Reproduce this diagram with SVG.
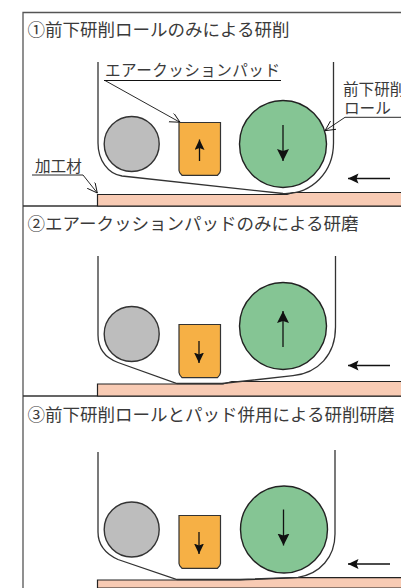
<svg xmlns="http://www.w3.org/2000/svg" width="401" height="588" viewBox="0 0 401 588">
<style>
text{font-family:"Noto Sans CJK JP","Liberation Sans",sans-serif;fill:#3a3a3a}
.t{font-size:17.5px}
.l{font-size:15.6px}
.f{fill:none;stroke:#555;stroke-width:1.3}
.b{fill:none;stroke:#333;stroke-width:1.3}
.k{fill:none;stroke:#111;stroke-width:1}
.w{fill:#f8cbb4;stroke:#222;stroke-width:1.2}
.g{fill:#bdbdbd;stroke:#333;stroke-width:1.4}
.r{fill:#85c594;stroke:#222;stroke-width:1.4}
.p{fill:#f6b045;stroke:#333;stroke-width:1.2}
.a{fill:none;stroke:#111;stroke-width:1.3;marker-end:url(#ah)}
.s{fill:none;stroke:#111;stroke-width:1.3;marker-end:url(#as)}
.o{fill:none;stroke:#111;stroke-width:.9;marker-end:url(#oh)}
</style>
<defs>
<marker id="ah" markerUnits="userSpaceOnUse" markerWidth="14" markerHeight="14" refX="12" refY="6" orient="auto"><path d="M0 0L12 6L0 12L2 6Z" fill="#111"/></marker>
<marker id="as" markerUnits="userSpaceOnUse" markerWidth="12" markerHeight="12" refX="10.500" refY="5" orient="auto"><path d="M0 0L10.500 5L0 10L2 5Z" fill="#111"/></marker>
<marker id="oh" markerUnits="userSpaceOnUse" markerWidth="12" markerHeight="12" refX="10" refY="5" orient="auto"><path d="M0 0L10 5L0 10" fill="none" stroke="#111" stroke-width=".9"/></marker>
</defs>
<g id="frame">
<path class="f" d="M23 588V12.500H401"/>
<path class="b" d="M23 206H401M23 396H401"/>
</g>
<g id="workpieces">
<path class="w" d="M97.500 206V194.500H287L293 192.500H402V206Z"/>
<path class="w" d="M97.500 396V384H223L232 381.500H402V396Z"/>
<path class="w" d="M97.500 588V580H240L298 577.700H402V588Z"/>
</g>
<g id="connectors">
<path class="b" d="M98 62V143C98 160 108 174 122 176L283 193.500C312 194.500 333.500 172 333.500 143V62"/>
<path class="b" d="M98 256V335C98 349 106 358 118 362.500L177 383.500H222L293 375.700C318 373 335.500 355 335.500 327V256"/>
<path class="b" d="M98 452V532C98 545 106 554 118 559.500L177 579.500H240L298 577.300C320 574 335 557 335 534V450"/>
<path class="o" d="M32 175H83L97.300 193"/>
<path class="k" d="M104 80.500H281"/>
<path class="o" d="M105 80.500L180 122.300"/>
<path class="o" d="M401 117.300H345L325 130.700"/>
<path class="s" d="M390 178.500H348"/>
<path class="s" d="M390 365.500H348"/>
<path class="s" d="M390 564H348"/>
</g>
<g id="title1"><text class="t" x="27.500" y="36">①前下研削ロールのみによる研削</text></g>
<g id="title2"><text class="t" x="27.500" y="230">②エアークッションパッドのみによる研磨</text></g>
<g id="title3"><text class="t" x="27.500" y="421">③前下研削ロールとパッド併用による研削研磨</text></g>
<g id="labelPad"><text class="l" x="105" y="76" textLength="175">エアークッションパッド</text></g>
<g id="labelRoll"><text class="l" x="343" y="95">前下研削</text><text class="l" x="344" y="113.500">ロール</text></g>
<g id="labelWork"><text class="l" x="35" y="171.500">加工材</text></g>
<g id="panel1">
<circle class="g" cx="131.700" cy="144" r="27.500"/>
<path class="p" d="M179 122.500H220.500V170.500Q220.500 172.500 217.500 175.300H182Q179 172.500 179 170.500Z"/>
<path class="s" d="M199.500 161V139.500"/>
<circle class="r" cx="283" cy="144" r="43.500"/>
<path class="a" d="M283 125V161"/>
</g>
<g id="panel2">
<circle class="g" cx="131.700" cy="334" r="27.500"/>
<path class="p" d="M179 324.500H220.500V372.500Q220.500 374.500 217.500 377.700H182Q179 374.500 179 372.500Z"/>
<path class="s" d="M199 341V363"/>
<circle class="r" cx="283" cy="326" r="43.500"/>
<path class="a" d="M283 347V311"/>
</g>
<g id="panel3">
<circle class="g" cx="131.700" cy="529.500" r="27.500"/>
<path class="p" d="M179 515.500H220.500V563.500Q220.500 565.500 217.500 568.300H182Q179 565.500 179 563.500Z"/>
<path class="s" d="M199 532V554"/>
<circle class="r" cx="284" cy="529.500" r="43.500"/>
<path class="a" d="M283.500 509.500V545.500"/>
</g>
</svg>
